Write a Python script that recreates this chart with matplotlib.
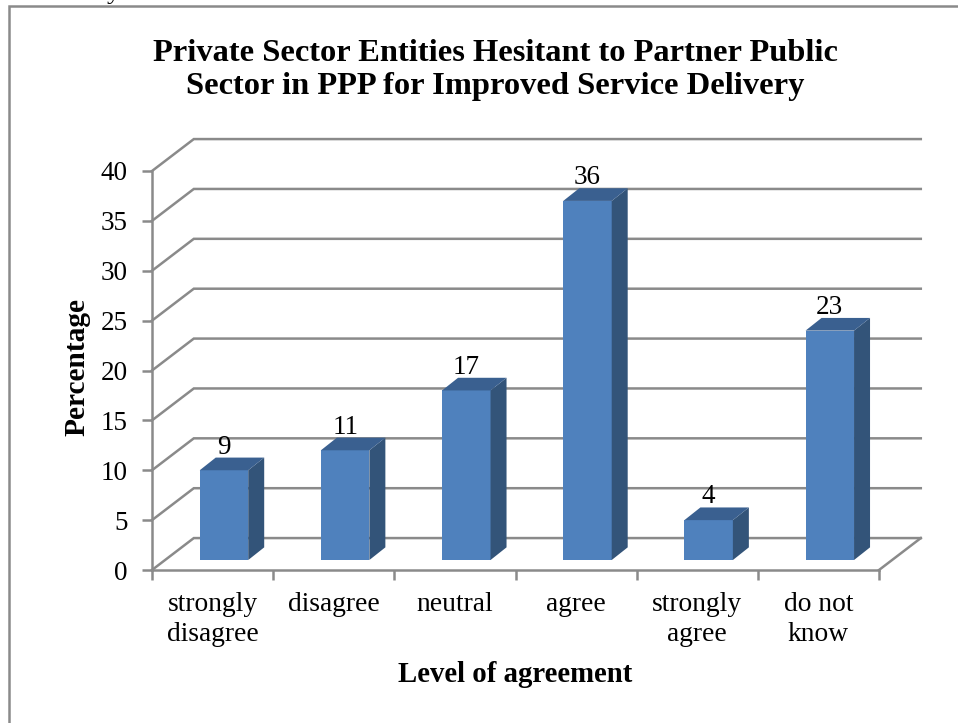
import matplotlib
matplotlib.use("Agg")
import matplotlib.pyplot as plt
from matplotlib.lines import Line2D
from matplotlib.patches import Polygon

categories = ["strongly\ndisagree", "disagree", "neutral", "agree", "strongly\nagree", "do not\nknow"]
values = [9, 11, 17, 36, 4, 23]
y_ticks = [0, 5, 10, 15, 20, 25, 30, 35, 40]
title = "Private Sector Entities Hesitant to Partner Public\nSector in PPP for Improved Service Delivery"
xlabel = "Level of agreement"
ylabel = "Percentage"

W, H = 958, 723
plt.rcParams['font.family'] = ['Liberation Serif', 'DejaVu Serif']
fig = plt.figure(figsize=(W / 100, H / 100), dpi=100)
fig.patch.set_facecolor('white')

GRID = '#8A8A8A'
FRONT = '#4F81BD'
SIDE = '#335479'
TOP = '#3A6090'
LW = 1.8

# outer frame: only the top and left edges are inside the crop
fig.add_artist(Line2D([9 / W, 9 / W, 1], [0, 1 - 6 / H, 1 - 6 / H],
                      transform=fig.transFigure, color=GRID, lw=LW, solid_joinstyle='miter'))
# descender of the document text above the chart
fig.text(113 / W, 1 + 1 / H, "y", fontsize=19, ha='center', va='baseline', color='black')

# front plane of the 3-D box
L, R, T, B = 152, 879, 171, 570
ax = fig.add_axes([L / W, 1 - B / H, (R - L) / W, (B - T) / H])
ax.set_xlim(-0.5, 5.5)
ax.set_ylim(0, 40)
ax.patch.set_alpha(0)
for s in ('top', 'right'):
    ax.spines[s].set_visible(False)
for s in ('left', 'bottom'):
    ax.spines[s].set_color(GRID)
    ax.spines[s].set_linewidth(LW)

# depth of the box in data units
DX, DY = 0.345, 3.2
bar_w = 0.40
shift_x, bar_base = 0.094, 1.0
depth_x, depth_y = 0.132, 1.27

for t in y_ticks:
    ax.plot([-0.5, -0.5 + DX, 5.5 + DX], [t, t + DY, t + DY], color=GRID, lw=LW,
            clip_on=False, zorder=1, solid_joinstyle='miter')
ax.plot([5.5, 5.5 + DX], [0, DY], color=GRID, lw=LW, clip_on=False, zorder=1)

x_pos = [i + shift_x for i in range(len(values))]
ax.bar(x_pos, values, width=bar_w, bottom=bar_base, color=FRONT, zorder=3, clip_on=False)
for xc, v in zip(x_pos, values):
    xl, xr = xc - bar_w / 2, xc + bar_w / 2
    y0, y1 = bar_base, bar_base + v
    ax.add_patch(Polygon([(xr, y0), (xr + depth_x, y0 + depth_y), (xr + depth_x, y1 + depth_y), (xr, y1)],
                         closed=True, fc=SIDE, ec='none', zorder=3, clip_on=False))
    ax.add_patch(Polygon([(xl, y1), (xl + depth_x, y1 + depth_y), (xr + depth_x, y1 + depth_y), (xr, y1)],
                         closed=True, fc=TOP, ec='none', zorder=3, clip_on=False))
    ax.text(xc, y1 + depth_y - 0.2, str(v), ha='center', va='bottom', fontsize=19.5, color='black', zorder=4)

ax.set_yticks(y_ticks)
ax.set_yticklabels([str(t) for t in y_ticks])
ax.set_xticks([i - 0.5 for i in range(len(values) + 1)])
ax.set_xticklabels([])
ax.tick_params(axis='y', labelsize=19.5, length=7, width=LW, color=GRID, pad=10.5, labelcolor='black')
ax.tick_params(axis='x', length=7, width=LW, color=GRID)
for i, c in enumerate(categories):
    ax.annotate(c, xy=(i, 0), xycoords=('data', 'axes fraction'), xytext=(0, -16),
                textcoords='offset points', ha='center', va='top', fontsize=19.8, linespacing=1.27)

fig.text(495 / W, 1 - 70 / H, title, ha='center', va='center', fontsize=23.4, fontweight='bold', linespacing=1.22)
fig.text(515 / W, 1 - 674 / H, xlabel, ha='center', va='center', fontsize=20.7, fontweight='bold')
fig.text(77 / W, 1 - 367 / H, ylabel, ha='center', va='center', rotation=90, fontsize=21.2, fontweight='bold')

fig.savefig('out.png', dpi=100)
